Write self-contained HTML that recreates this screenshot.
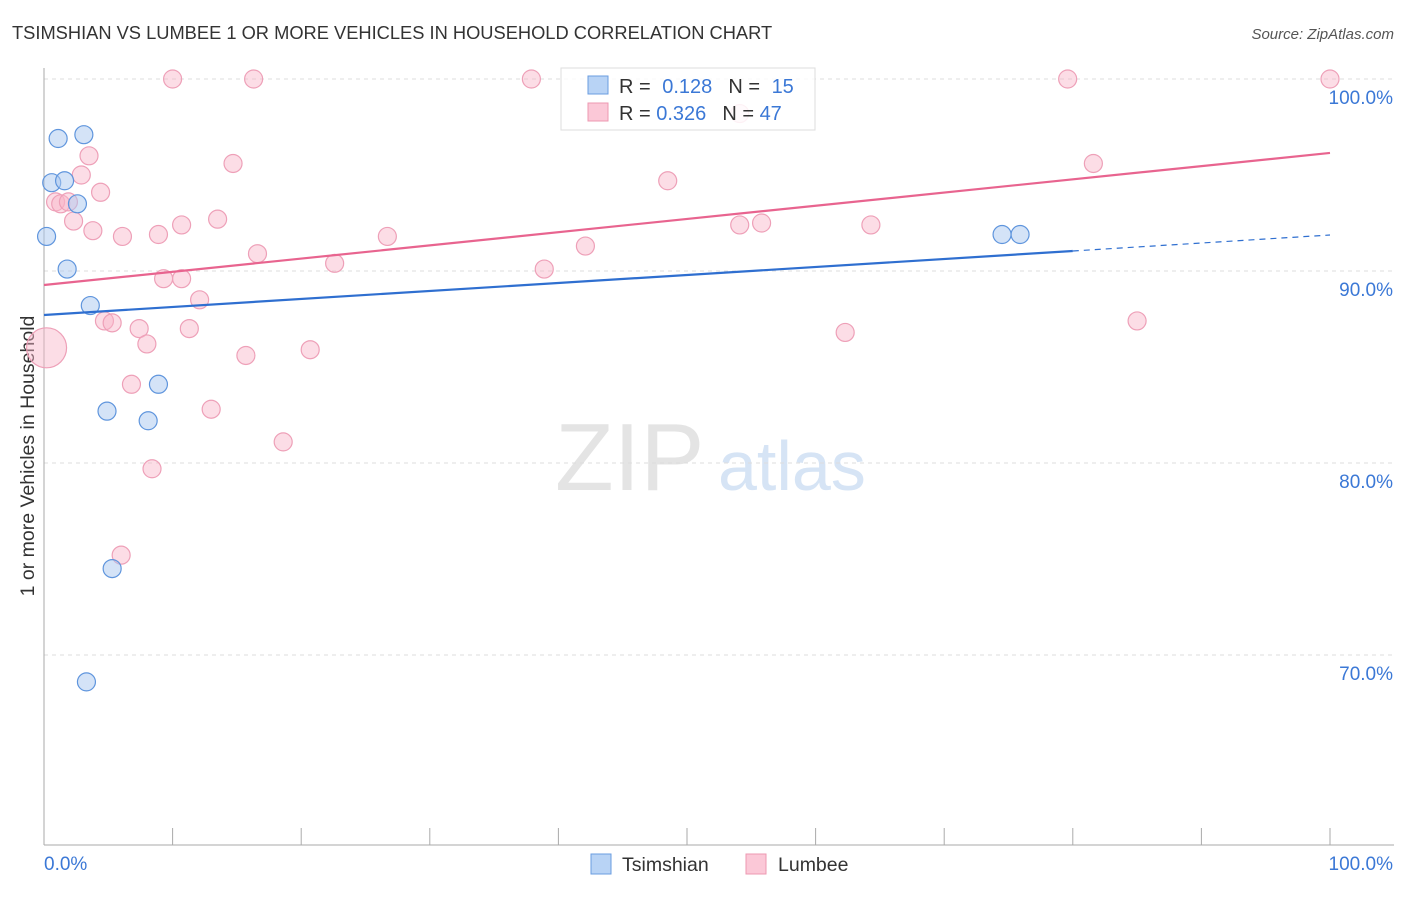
<!DOCTYPE html>
<html><head><meta charset="utf-8"><style>
body{margin:0;background:#fff;font-family:"Liberation Sans",sans-serif;}
svg text{font-family:"Liberation Sans",sans-serif;}
</style></head><body>
<svg id="chart" width="1406" height="892" xmlns="http://www.w3.org/2000/svg">
<text x="12" y="39" font-size="18.3" fill="#333">TSIMSHIAN VS LUMBEE 1 OR MORE VEHICLES IN HOUSEHOLD CORRELATION CHART</text>
<text x="1394" y="39" font-size="15" fill="#555" font-style="italic" text-anchor="end">Source: ZipAtlas.com</text>
<text x="555" y="490" font-size="96" fill="#e4e4e4" font-family="Liberation Serif">ZIP</text>
<text x="718" y="490" font-size="70" fill="#d6e4f5">atlas</text>
<text transform="translate(34,456) rotate(-90)" font-size="19.5" fill="#333" text-anchor="middle">1 or more Vehicles in Household</text>
<g id="grid"></g><g id="axes"></g><g id="marks"></g><g id="lines"></g>
<g>
<rect x="561" y="68" width="254" height="62" fill="rgba(255,255,255,0.85)" stroke="#ddd"/>
<rect x="588" y="76" width="20" height="18" fill="#b8d3f5" stroke="#6a9de0"/>
<rect x="588" y="103" width="20" height="18" fill="#fbc8d7" stroke="#ee98b2"/>
<text x="619" y="93" font-size="20" fill="#333">R = <tspan fill="#3b78d6" dx="6">0.128</tspan><tspan dx="16" fill="#333">N = </tspan><tspan dx="6" fill="#3b78d6">15</tspan></text>
<text x="619" y="120" font-size="20" fill="#333">R = <tspan fill="#3b78d6">0.326</tspan><tspan dx="16" fill="#333">N = </tspan><tspan dx="0" fill="#3b78d6">47</tspan></text>
</g>
<g>
<rect x="591" y="854" width="20" height="20" fill="#b8d3f5" stroke="#6a9de0"/>
<text x="622" y="871" font-size="19.5" fill="#333">Tsimshian</text>
<rect x="746" y="854" width="20" height="20" fill="#fbc8d7" stroke="#ee98b2"/>
<text x="778" y="871" font-size="19.5" fill="#333">Lumbee</text>
</g>
</svg>
<script>
const yTicks=[100,90,80,70];
const blueX=[0.2,1.1,3.1,0.6,1.6,2.6,1.8,3.6,8.9,4.9,8.1,5.3,3.3,74.5,75.9];
const blueY=[91.8,96.9,97.1,94.6,94.7,93.5,90.1,88.2,84.1,82.7,82.2,74.5,68.6,91.9,91.9];
const pinkX=[10,16.3,37.9,79.6,100,54.1,3.5,2.9,14.7,4.4,81.6,48.5,0.9,1.3,1.9,2.3,3.8,6.1,8.9,10.7,13.5,26.7,54.1,55.8,64.3,42.1,16.6,22.6,38.9,9.3,10.7,12.1,4.7,5.3,7.4,11.3,8,0.2,15.7,20.7,62.3,85,6.8,13,18.6,8.4,6];
const pinkY=[100,100,100,100,100,98.2,96,95,95.6,94.1,95.6,94.7,93.6,93.5,93.6,92.6,92.1,91.8,91.9,92.4,92.7,91.8,92.4,92.5,92.4,91.3,90.9,90.4,90.1,89.6,89.6,88.5,87.4,87.3,87,87,86.2,86,85.6,85.9,86.8,87.4,84.1,82.8,81.1,79.7,75.2];
const pinkR=[9,9,9,9,9,9,9,9,9,9,9,9,9,9,9,9,9,9,9,9,9,9,9,9,9,9,9,9,9,9,9,9,9,9,9,9,9,20,9,9,9,9,9,9,9,9,9];
const blueFit=[87.71,91.875];
const pinkFit=[89.27,96.15];
const NS='http://www.w3.org/2000/svg';
const X=v=>44+v*12.86, Y=v=>79+(100-v)*19.2;
function el(p,t,a){const e=document.createElementNS(NS,t);for(const k in a)e.setAttribute(k,a[k]);const par=document.getElementById(p);par.appendChild(e);return e;}
yTicks.forEach(t=>{
 const g=el('grid','line',{x1:44,x2:1394,y1:Y(t),y2:Y(t),stroke:'#ddd','stroke-dasharray':'4,4'});
 
 
 const l=el('grid','text',{x:1393,y:Y(t)+25,'font-size':19,fill:'#3b78d6','text-anchor':'end'});
 l.textContent=t.toFixed(1)+'%';
 
 
});
let a=el('axes','line',{x1:44,x2:44,y1:68,y2:845,stroke:'#aaa'});


a=el('axes','line',{x1:44,x2:1394,y1:845,y2:845,stroke:'#aaa'});


for(let i=0;i<=10;i++){const t=el('axes','line',{x1:X(i*10),x2:X(i*10),y1:828,y2:845,stroke:'#aaa'});
 
 }
let t=el('axes','text',{x:44,y:870,'font-size':19,fill:'#3b78d6'});t.textContent='0.0%';


t=el('axes','text',{x:1393,y:870,'font-size':19,fill:'#3b78d6','text-anchor':'end'});t.textContent='100.0%';


pinkX.forEach((x,i)=>{const c=el('marks','circle',{cx:X(x),cy:Y(pinkY[i]),r:pinkR[i],fill:'rgba(248,180,200,0.45)',stroke:'#eea0b8','stroke-width':1.2});
 
 });
blueX.forEach((x,i)=>{const c=el('marks','circle',{cx:X(x),cy:Y(blueY[i]),r:9,fill:'rgba(170,200,240,0.5)',stroke:'#5f95dd','stroke-width':1.2});
 
 });
const fy=(f,x)=>f[0]+(f[1]-f[0])*x/100;
let ln=el('lines','line',{x1:X(0),y1:Y(fy(pinkFit,0)),x2:X(100),y2:Y(fy(pinkFit,100)),stroke:'#e8648f','stroke-width':2.2});


ln=el('lines','line',{x1:X(0),y1:Y(fy(blueFit,0)),x2:X(80),y2:Y(fy(blueFit,80)),stroke:'#2f6fd0','stroke-width':2.2});


ln=el('lines','line',{x1:X(80),y1:Y(fy(blueFit,80)),x2:X(100),y2:Y(fy(blueFit,100)),stroke:'#2f6fd0','stroke-width':1.2,'stroke-dasharray':'6,5'});


</script>
</body></html>
